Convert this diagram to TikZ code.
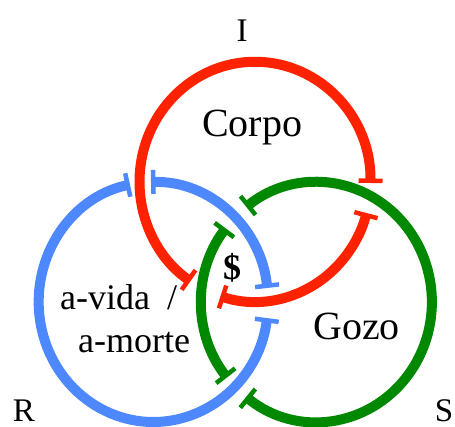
\documentclass[tikz,border=0pt]{standalone}
\usepackage{fontspec}
\setmainfont{Liberation Serif}
\usetikzlibrary{arrows.meta}
\definecolor{ringred}{RGB}{255,34,0}
\definecolor{ringblue}{RGB}{77,136,255}
\definecolor{ringgreen}{RGB}{0,136,0}
\tikzset{
  ring/.style={line width=10pt,
    {Bar[width=24pt,line width=4.5pt]}-{Bar[width=24pt,line width=4.5pt]}},
  bigtext/.style={font=\fontsize{40}{48}\selectfont, inner sep=0pt},
  midtext/.style={font=\fontsize{36}{43}\selectfont, inner sep=0pt},
  cornertext/.style={font=\fontsize{33}{40}\selectfont, inner sep=0pt},
}
\begin{document}
\begin{tikzpicture}[x=1pt,y=1pt]
  \useasboundingbox (0,0) rectangle (455,427);
  % ring centres
  \coordinate (cR) at (255,245.25);
  \coordinate (cB) at (153.4,125);
  \coordinate (cG) at (316.6,125);
  % red ring, passing under the green one twice
  \draw[ring,ringred] ([shift={(-0.6:115.5 and 120)}]cR)
    arc[start angle=-0.6, end angle=236, x radius=115.5, y radius=120];
  \draw[ring,ringred] ([shift={(-107.4:115.5 and 120)}]cR)
    arc[start angle=-107.4, end angle=-15.1, x radius=115.5, y radius=120];
  % blue ring, passing under the red one twice
  \draw[ring,ringblue] ([shift={(6.7:114.7 and 120)}]cB)
    arc[start angle=6.7, end angle=91.2, x radius=114.7, y radius=120];
  \draw[ring,ringblue] ([shift={(101.8:114.7 and 120)}]cB)
    arc[start angle=101.8, end angle=352.3, x radius=114.7, y radius=120];
  % green ring, passing under the blue one twice
  \draw[ring,ringgreen] ([shift={(142.1:115.3 and 120)}]cG)
    arc[start angle=142.1, end angle=219, x radius=115.3, y radius=120];
  \draw[ring,ringgreen] ([shift={(232.3:115.3 and 120)}]cG)
    arc[start angle=232.3, end angle=487.6, x radius=115.3, y radius=120];
  % labels
  \node[cornertext, anchor=base] (labI) at (242,385) {I};
  \node[cornertext, anchor=base] (labR) at (24,5) {R};
  \node[cornertext, anchor=base] (labS) at (444,5) {S};
  \node[bigtext, anchor=base] (corpo) at (252,290.3) {Corpo};
  \node[bigtext, anchor=base west] (gozo) at (313,87) {Gozo};
  \node[midtext, anchor=base west] (avida) at (60,117) {a-vida};
  \node[midtext, anchor=base west] (slash) at (167,117) {/};
  \node[midtext, anchor=base west] (amorte) at (78,74) {a-morte};
  \node[font=\fontsize{36}{43}\selectfont\bfseries, inner sep=0pt] (dollar) at (232,159.5) {\$};
\end{tikzpicture}
\end{document}
